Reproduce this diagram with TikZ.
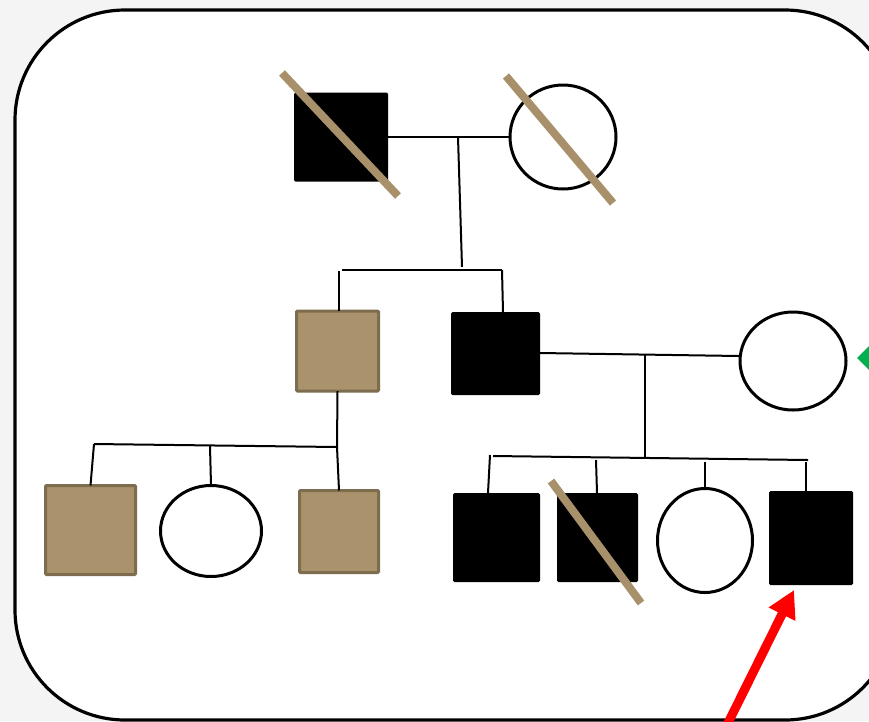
\documentclass[tikz,border=0pt]{standalone}
\usetikzlibrary{shapes.geometric,arrows.meta}
\definecolor{paper}{RGB}{244,244,244}
\definecolor{tanfill}{RGB}{170,147,108}
\definecolor{tanedge}{RGB}{126,108,78}
\definecolor{slashtan}{RGB}{168,145,106}
\definecolor{markgreen}{RGB}{0,176,80}
\tikzset{
  malefill/.style={rectangle, fill=black, draw=none, rounded corners=1.5pt, inner sep=0pt, outer sep=0pt},
  maletan/.style={rectangle, fill=tanfill, draw=tanedge, line width=3pt, rounded corners=1pt, inner sep=0pt, outer sep=0pt},
  female/.style={ellipse, draw=black, fill=white, line width=3pt, inner sep=0pt, outer sep=0pt},
  link/.style={draw=black, line width=2pt},
  deceased/.style={draw=slashtan, line width=8pt},
  frame/.style={draw=black, fill=white, line width=3.2pt, rounded corners=110pt}
}
\begin{document}
\begin{tikzpicture}[x=1pt,y=-1pt]
\useasboundingbox (0,0) rectangle (869,721);
\clip (0,0) rectangle (869,721);
\fill[paper] (0,0) rectangle (869,721);
\draw[frame] (15,10) rectangle (895,720);

% generation I
\node[malefill, minimum width=94pt, minimum height=89pt] (gf) at (341,137) {};
\node[female, minimum width=106pt, minimum height=104pt] (gm) at (563,137) {};

% generation II
\node[maletan, minimum width=82pt, minimum height=80pt] (t2) at (337.5,351) {};
\node[malefill, minimum width=89pt, minimum height=83pt] (b2) at (495.5,353.5) {};
\node[female, minimum width=106pt, minimum height=98pt] (w2) at (793,361) {};

% generation III, left sibship
\node[maletan, minimum width=90pt, minimum height=89pt] (c1) at (90.5,530) {};
\node[female, minimum width=101pt, minimum height=91pt] (c2) at (211,531) {};
\node[maletan, minimum width=79pt, minimum height=82pt] (c3) at (339,531.5) {};

% generation III, right sibship
\node[malefill, minimum width=87pt, minimum height=89pt] (d1) at (496.5,537.5) {};
\node[malefill, minimum width=81pt, minimum height=89pt] (d2) at (597.5,537.5) {};
\node[female, minimum width=95pt, minimum height=104pt] (d3) at (705,540.5) {};
\node[malefill, minimum width=84pt, minimum height=94pt] (d4) at (811,538) {};

% junction points
\coordinate (u1) at (458,137);
\coordinate (s1) at (462,267);
\coordinate (s1l) at (342,270);
\coordinate (s1r) at (502,270);
\coordinate (t2top) at (339,271);
\coordinate (t2in) at (339,311);
\coordinate (b2in) at (503,312);
\coordinate (w2in) at (739,356);
\coordinate (u2) at (645,354);
\coordinate (s2) at (645,458);
\coordinate (s2l) at (493,456);
\coordinate (s2r) at (808,460);
\coordinate (s3) at (337,447);
\coordinate (s3l) at (94,444);
\coordinate (s3m) at (210,446);
\coordinate (d1top) at (490,455);
\coordinate (d1in) at (488,493);
\coordinate (d2top) at (596,460);
\coordinate (d2in) at (597,493);
\coordinate (d3top) at (705,462);
\coordinate (d4top) at (806,462);
\coordinate (d4in) at (806,491);

% couples
\draw[link] (gf.east) -- (gm.west);
\draw[link] (b2.east |- 0,353) -- (w2in);

% descent, generation I to II
\draw[link] (u1) -- (s1);
\draw[link] (s1l) -- (s1r);
\draw[link] (t2top) -- (t2in);
\draw[link] (s1r) -- (b2in);

% descent, generation II to III (left)
\draw[link] (t2.south) -- (s3);
\draw[link] (s3l) -- (s3);
\draw[link] (s3) -- (c3.north);
\draw[link] (s3l) -- (c1.north);
\draw[link] (s3m) -- (c2.north);

% descent, generation II to III (right)
\draw[link] (u2) -- (s2);
\draw[link] (s2l) -- (s2r);
\draw[link] (d1top) -- (d1in);
\draw[link] (d2top) -- (d2in);
\draw[link] (d3top) -- (d3.north);
\draw[link] (d4top) -- (d4in);

% deceased marks
\draw[deceased] (282,73) -- (398,196);
\draw[deceased] (506,76) -- (613,203);
\draw[deceased] (551,481) -- (641,603);

% proband arrow and marker
\coordinate (ptail) at (724,731);
\coordinate (ptip) at (794,590);
\draw[red, line width=9pt, -{Triangle[length=27pt,width=28pt]}] (ptail) -- (ptip);
\node[diamond, fill=markgreen, minimum width=32pt, minimum height=32pt, inner sep=0pt] (mk) at (873,358) {};
\end{tikzpicture}
\end{document}
